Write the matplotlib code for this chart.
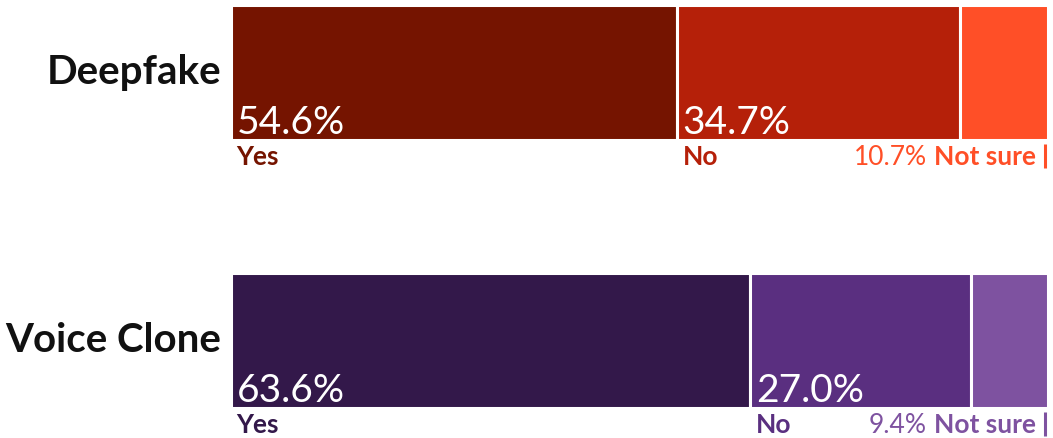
import matplotlib.pyplot as plt
from matplotlib.transforms import offset_copy

categories = ['Deepfake', 'Voice Clone']
answers = ['Yes', 'No', 'Not sure']
shares = {
    'Deepfake': [54.6, 34.7, 10.7],
    'Voice Clone': [63.6, 27.0, 9.4],
}
palettes = {
    'Deepfake': ['#751400', '#b52009', '#ff4f27'],
    'Voice Clone': ['#33184a', '#5a2f80', '#7e52a0'],
}

plt.rcParams['font.family'] = ['Lato', 'DejaVu Sans']

fig = plt.figure(figsize=(10.53, 4.38), dpi=100)
ax = fig.add_axes([230.5 / 1053, 0, 817 / 1053, 1])
ax.set_xlim(0, 100)
ax.set_ylim(1.366, -0.271)
ax.axis('off')

bar_h = 0.505
for yi, cat in enumerate(categories):
    vals = shares[cat]
    cols = palettes[cat]
    left = 0
    for ans, v, c in zip(answers, vals, cols):
        ax.barh(yi, v, left=left, height=bar_h, color=c,
                edgecolor='white', linewidth=2.2)
        bottom = yi + bar_h / 2
        if ans != 'Not sure':
            ax.text(left, bottom, f'{v:.1f}%', color='white', fontsize=28,
                    ha='left', va='bottom',
                    transform=offset_copy(ax.transData, fig, x=6, y=-1, units='dots'))
            ax.text(left, bottom, ans, color=c, fontsize=19, fontweight='bold',
                    ha='left', va='top',
                    transform=offset_copy(ax.transData, fig, x=6, y=-5, units='dots'))
        else:
            end = left + v
            ns = ax.text(end, bottom, 'Not sure', color=c, fontsize=19,
                         fontweight='bold', ha='right', va='top',
                         transform=offset_copy(ax.transData, fig, x=-12, y=-5,
                                               units='dots'))
            ax.annotate(f'{v:.1f}%', xy=(0, 1), xycoords=ns,
                        xytext=(-5, 0), textcoords='offset points',
                        color=c, fontsize=19, ha='right', va='top')
            tick = offset_copy(ax.transData, fig, x=-3, y=0, units='dots')
            ax.plot([end, end], [bottom + 0.015, bottom + 0.105], color=c,
                    linewidth=2.2, transform=tick, clip_on=False,
                    solid_capstyle='butt')
        left += v
    ax.text(0, yi, cat, fontsize=29, fontweight='bold', color='#111111',
            ha='right', va='center',
            transform=offset_copy(ax.transData, fig, x=-9, y=0, units='dots'))

fig.savefig('out.png', dpi=100)
